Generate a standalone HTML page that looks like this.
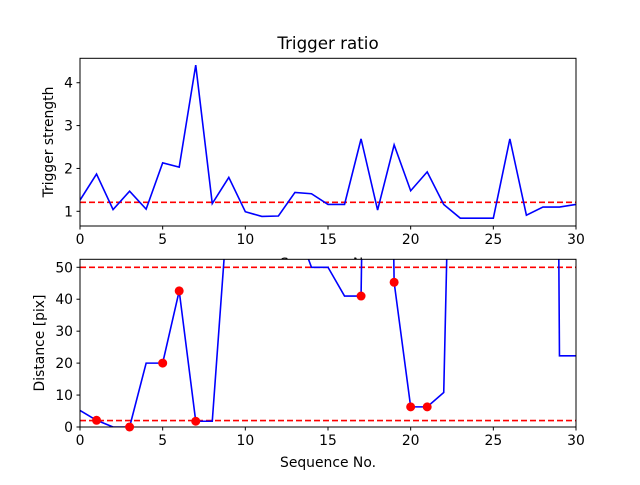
<!DOCTYPE html>
<html><head><meta charset="utf-8"><style>
body{margin:0;background:#fff}
svg text{font-family:"DejaVu Sans","Liberation Sans",sans-serif;fill:#000}
</style></head><body>
<svg id="c" width="640" height="480" xmlns="http://www.w3.org/2000/svg"></svg>
<script>
const seq = [0,1,2,3,4,5,6,7,8,9,10,11,12,13,14,15,16,17,18,19,20,21,22,23,24,25,26,27,28,29,30];
const ratio = [1.26,1.87,1.04,1.47,1.05,2.13,2.03,4.41,1.18,1.79,0.99,0.88,0.89,1.44,1.41,1.16,1.16,2.69,1.03,2.55,1.48,1.92,1.16,0.84,0.84,0.84,2.69,0.91,1.10,1.10,1.16];
const ratioThreshold = 1.21;
const distance = [5.2,2.1,0,0,20,20,42.6,1.8,1.8,73,120,120,120,64,50,50,41,41,400,45.3,6.3,6.3,10.8,242,300,300,300,300,800,22.3,22.3];
const markerX = [1,3,5,6,7,17,19,20,21];
const markerY = [2.1,0,20,42.6,1.8,41,45.3,6.3,6.3];
const distLines = [50,2];
const xTicks = [0,5,10,15,20,25,30];
const yTicksTop = [1,2,3,4];
const yTicksBot = [0,10,20,30,40,50];

const svg = document.getElementById('c');
const NS = 'http://www.w3.org/2000/svg';
function el(tag, attrs, parent){const e=document.createElementNS(NS,tag);for(const k in attrs)e.setAttribute(k,attrs[k]);(parent||svg).appendChild(e);return e;}
const L=80,R=576;
const sx=v=>L+(v-0)/(30-0)*(R-L);
function axes(top,bot,ymin,ymax,id){
  const sy=v=>bot-(v-ymin)/(ymax-ymin)*(bot-top);
  return {top,bot,sy,id};
}
const A = axes(58.3,226,0.657,4.57,'top');
const B = axes(259.3,427,0,52.5,'bot');

// top panel
el('text',{x:328,y:49,'font-size':16.7,'text-anchor':'middle',}).textContent='Trigger ratio';
el('defs',{}).innerHTML='<clipPath id="ca"><rect x="80" y="58.3" width="496" height="167.7"/></clipPath><clipPath id="cb"><rect x="80" y="259.3" width="496" height="167.7"/></clipPath>';
function frame(ax,name){
  el('rect',{x:L,y:ax.top,width:R-L,height:ax.bot-ax.top,fill:'#fff',stroke:'none',});
}
function border(ax,name){
  el('rect',{x:L,y:ax.top,width:R-L,height:ax.bot-ax.top,fill:'none',stroke:'#000','stroke-width':1,});
}
function ticks(ax,yt,name){
  const g=el('g',{});
  xTicks.forEach(t=>{el('line',{x1:sx(t),x2:sx(t),y1:ax.bot,y2:ax.bot+3.5,stroke:'#000'},g);
    el('text',{x:sx(t),y:ax.bot+18,'font-size':13.9,'text-anchor':'middle'},g).textContent=t;});
  yt.forEach(t=>{el('line',{x1:L-3.5,x2:L,y1:ax.sy(t),y2:ax.sy(t),stroke:'#000'},g);
    el('text',{x:L-7,y:ax.sy(t)+5,'font-size':13.9,'text-anchor':'end'},g).textContent=t;});
}
frame(A,'top-axes');
const ga=el('g',{'clip-path':'url(#ca)'});
el('line',{x1:L,x2:R,y1:A.sy(ratioThreshold),y2:A.sy(ratioThreshold),stroke:'#f00','stroke-width':1.6,'stroke-dasharray':'6,3',},ga);
el('polyline',{points:seq.map((x,i)=>sx(x)+','+A.sy(ratio[i])).join(' '),fill:'none',stroke:'#00f','stroke-width':1.6,},ga);
border(A,'top-axes');
ticks(A,yTicksTop,'top');
el('text',{x:328,y:268,'font-size':13.9,'text-anchor':'middle',}).textContent='Sequence No.';
const t1=el('text',{x:0,y:0,'font-size':13.9,'text-anchor':'middle',transform:'translate(53,142) rotate(-90)',});t1.textContent='Trigger strength';

// bottom panel
frame(B,'bottom-axes');
const gb=el('g',{'clip-path':'url(#cb)'});
distLines.forEach(v=>{el('line',{x1:L,x2:R,y1:B.sy(v),y2:B.sy(v),stroke:'#f00','stroke-width':1.6,'stroke-dasharray':'6,3',},gb);});
el('polyline',{points:seq.map((x,i)=>sx(x)+','+B.sy(distance[i])).join(' '),fill:'none',stroke:'#00f','stroke-width':1.6,},gb);
border(B,'bottom-axes');
markerX.forEach((x,i)=>{const c=el('circle',{cx:sx(x),cy:B.sy(markerY[i]),r:4.5,fill:'#f00'});

});
ticks(B,yTicksBot,'bottom');
el('text',{x:328,y:467,'font-size':13.9,'text-anchor':'middle',}).textContent='Sequence No.';
el('text',{x:0,y:0,'font-size':13.9,'text-anchor':'middle',transform:'translate(44,343) rotate(-90)',}).textContent='Distance [pix]';
</script>
</body></html>
